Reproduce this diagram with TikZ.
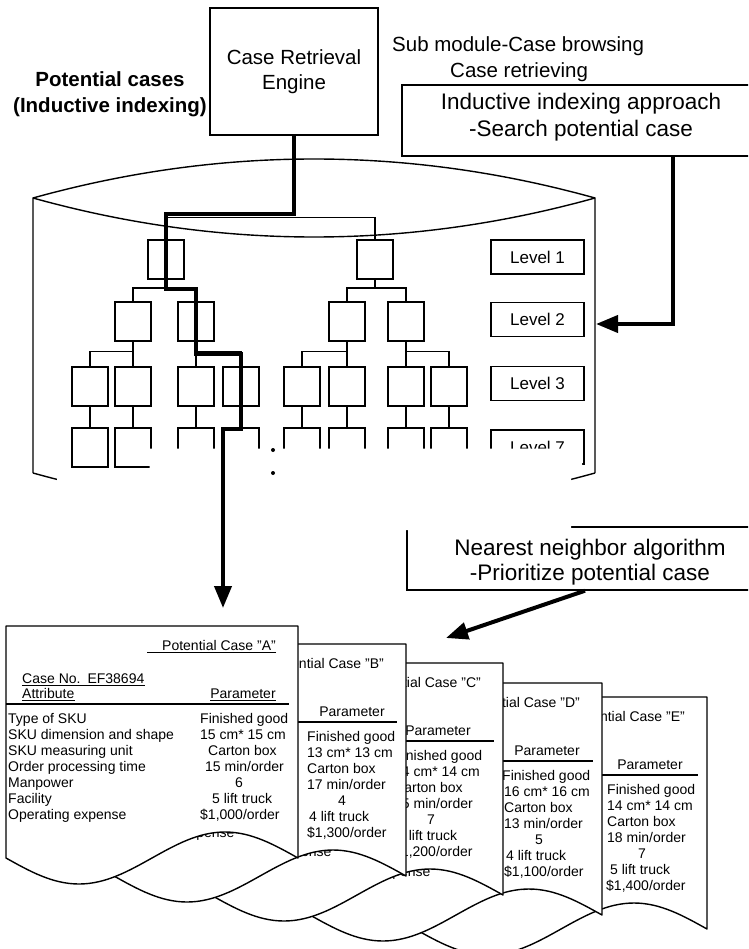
\documentclass[tikz,border=0pt]{standalone}
\usepackage{fontspec}
\setmainfont{Liberation Sans}
\usetikzlibrary{arrows.meta}

\newcommand\fsz[1]{\fontsize{#1}{#1}\selectfont}

% One case sheet: #1 left, #2 top, #3 letter, #4 centre of "Parameter",
% #5 value rows as offset/text pairs. The sheets are laid one over the
% other, so only the last attribute row shows below the front sheet's wave.
\newcommand\casesheet[5]{%
  \begin{scope}[shift={(#1,#2)}]
    \path[sheet] (0,232) -- (0,0) -- (292,0) -- (292,232)
      sin (219,206) cos (146,232) sin (73,258) cos (0,232) -- cycle;
    \node[cell, anchor=base east] (title#3) at (270,24) {Potential Case "#3"};
    \node[cell, anchor=base] (param#3) at (#4,72) {Parameter};
    \draw[wire] (0,78) -- (283,78);
    \node[cell, anchor=base west] (attr#3) at (2,193) {Operating expense};
    \foreach \dx/\val [count=\k from 0] in {#5}
      \node[cell, anchor=base west] (val#3\k) at (\dx,97+16*\k) {\val};
  \end{scope}}

\begin{document}
\begin{tikzpicture}[x=1pt, y=-1pt,
  wire/.style={line width=1.4pt},
  route/.style={line width=4pt},
  uline/.style={line width=1.2pt},
  boxline/.style={draw, line width=1.4pt, inner sep=0pt},
  tbox/.style={boxline, minimum width=36pt, minimum height=39pt},
  lvl/.style={boxline, minimum width=93pt, minimum height=34pt, font=\fsz{17}},
  lab/.style={inner sep=0pt, font=\fsz{20.5}},
  bigtext/.style={inner sep=0pt, font=\fsz{22.5}},
  cell/.style={inner sep=0pt, font=\fsz{14}},
  sheet/.style={draw, fill=white, line width=1.4pt, line join=round},
  pointer/.style={-{Triangle[length=22pt,width=17pt]}},
  dot/.style={circle, fill, inner sep=0pt, minimum size=4pt},
]
\useasboundingbox (0,0) rectangle (748,949);
\clip (0,0) rectangle (748,949);

% ---------- headings ----------
\node[lab, font=\fsz{20.5}\bfseries, anchor=base] (pot1) at (110,87) {Potential cases};
\node[lab, font=\fsz{20.5}\bfseries, anchor=base] (pot2) at (110,113) {(Inductive indexing)};

\node[boxline, minimum width=168pt, minimum height=127pt] (cre) at (294,71.5) {};
\node[lab, anchor=base] (cre1) at (294,65) {Case Retrieval};
\node[lab, anchor=base] (cre2) at (294,90) {Engine};

\node[lab, anchor=base west] (sub1) at (392,52) {Sub module-Case browsing};
\node[lab, anchor=base west] (sub2) at (450,78) {Case retrieving};

\node[boxline, minimum width=358pt, minimum height=71pt] (ind) at (581,120.5) {};
\node[bigtext, anchor=base] (ind1) at (581,110) {Inductive indexing approach};
\node[bigtext, anchor=base] (ind2) at (581,137) {-Search potential case};

\node[boxline, minimum width=366pt, minimum height=63pt] (nn) at (590,558.5) {};
\node[bigtext, anchor=base] (nn1) at (590,555) {Nearest neighbor algorithm};
\node[bigtext, anchor=base] (nn2) at (590,580) {-Prioritize potential case};

% ---------- case base drum ----------
\draw[wire] (33,473) -- (33,198) .. controls (220,146) and (408,146) .. (595,198) -- (595,473);
\draw[wire] (33,198) .. controls (220,250) and (408,250) .. (595,198);
\draw[wire] (33,473) .. controls (220,525) and (408,525) .. (595,473);

% ---------- level tags ----------
\node[lvl] (lv1) at (537.5,257) {Level 1};
\node[lvl] (lv2) at (537.5,319.5) {Level 2};
\node[lvl] (lv3) at (537.5,383.5) {Level 3};
\node[lvl] (lv7) at (537.5,447) {Level 7};

% ---------- index tree, left branch ----------
\node[tbox] (l1a) at (166,259.5) {};
\node[tbox] (l2a) at (133,321.5) {};
\node[tbox] (l2b) at (196,321.5) {};
\node[tbox] (l3a) at (90,386.5) {};
\node[tbox] (l3b) at (133,386.5) {};
\node[tbox] (l3c) at (196,386.5) {};
\node[tbox] (l3d) at (241,386.5) {};
\node[tbox] (l4a) at (90,447.5) {};
\node[tbox] (l4b) at (133,447.5) {};
\node[tbox] (l4c) at (196,447.5) {};
\node[tbox] (l4d) at (241,447.5) {};

% ---------- index tree, right branch ----------
\node[tbox] (r1) at (375,259.5) {};
\node[tbox] (r2a) at (347,321.5) {};
\node[tbox] (r2b) at (406,321.5) {};
\node[tbox] (r3a) at (302,386.5) {};
\node[tbox] (r3b) at (347,386.5) {};
\node[tbox] (r3c) at (406,386.5) {};
\node[tbox] (r3d) at (449,386.5) {};
\node[tbox] (r4a) at (302,447.5) {};
\node[tbox] (r4b) at (347,447.5) {};
\node[tbox] (r4c) at (406,447.5) {};
\node[tbox] (r4d) at (449,447.5) {};

% tree links
\draw[wire] (l1a.north) -- ++(0,-22) -| (r1.north);
\draw[wire] (l1a.south) -- ++(0,9);
\draw[wire] (l2a.north) -- ++(0,-13.5) -| (l2b.north);
\draw[wire] (r1.south) -- ++(0,9);
\draw[wire] (r2a.north) -- ++(0,-13.5) -| (r2b.north);
\draw[wire] (l2a.south) -- ++(0,11);
\draw[wire] (l3a.north) -- ++(0,-15) -| (l3b.north);
\draw[wire] (l2b.south) -- ++(0,11);
\draw[wire] (l3c.north) -- ++(0,-15) -| (l3d.north);
\draw[wire] (r2a.south) -- ++(0,11);
\draw[wire] (r3a.north) -- ++(0,-15) -| (r3b.north);
\draw[wire] (r2b.south) -- ++(0,11);
\draw[wire] (r3c.north) -- ++(0,-15) -| (r3d.north);
\foreach \u/\v in {l3a/l4a, l3b/l4b, l3c/l4c, l3d/l4d, r3a/r4a, r3b/r4b, r3c/r4c, r3d/r4d}
  \draw[wire] (\u.south) -- (\v.north);

% blank band hiding the lowest rows
\fill[white] (149.5,448.5) -- (582,448.5) -- (582,475) -- (571,475) -- (571,530)
  -- (57,530) -- (57,475) -- (149.5,475) -- cycle;

\node[dot] (d1) at (273,450) {};
\node[dot] (d2) at (273,473) {};

% ---------- retrieval path and arrows ----------
\coordinate (tipA) at (223,608);
\coordinate (cylR) at (596,324);
\coordinate (stack) at (446,638);

\draw[route, pointer] (cre.south) -- ++(0,78) -- ++(-128,0) -- ++(0,75) -- ++(30,0)
  -- ++(0,65) -- ++(45,0) -- ++(0,75) -- ++(-18,0) -- (tipA);
\draw[route, pointer] ([xshift=92pt]ind.south) |- (cylR);
\draw[route, pointer] ([xshift=-5pt]nn.south) -- (stack);

% ---------- stack of potential cases ----------
\casesheet{415}{697}{E}{235}{192/Finished good, 192/14 cm* 14 cm, 192/Carton box,
  192/{18 min/order}, 223/7, 195/5 lift truck, 191/{\$1,400/order}}
\casesheet{310}{683}{D}{237}{192/Finished good, 194/16 cm* 16 cm, 194/Carton box,
  194/{13 min/order}, 225/5, 196/4 lift truck, 194/{\$1,100/order}}
\casesheet{211}{663}{C}{227}{183/Finished good, 183/14 cm* 14 cm, 183/Carton box,
  183/{15 min/order}, 216/7, 186/5 lift truck, 182/{\$1,200/order}}
\casesheet{114}{644}{B}{238}{193/Finished good, 193/13 cm* 13 cm, 193/Carton box,
  193/{17 min/order}, 224/4, 195/4 lift truck, 193/{\$1,300/order}}
\casesheet{6}{626}{A}{237}{194/Finished good, 194/15 cm* 15 cm, 202/Carton box,
  199/{15 min/order}, 229/6, 206/5 lift truck, 194/{\$1,000/order}}

% front sheet: full attribute column and underlined headings
\foreach \lbl [count=\k from 0] in {Type of SKU, SKU dimension and shape,
    SKU measuring unit, Order processing time, Manpower, Facility}
  \node[cell, anchor=base west] (rowA\k) at (8,723+16*\k) {\lbl};
\node[cell, anchor=base west] (casenoA) at (22,683) {Case No.\hspace{7pt}EF38694};
\node[cell, anchor=base west] (attrhdA) at (22,698) {Attribute};
\draw[uline] ([yshift=-2.5pt]titleA.base east) -- ++(-129,0);
\draw[uline] ([yshift=-2.5pt]casenoA.base west) -- ([yshift=-2.5pt]casenoA.base east);
\draw[uline] ([yshift=-2.5pt]attrhdA.base west) -- ([yshift=-2.5pt]attrhdA.base east);
\draw[uline] ([yshift=-2.5pt]paramA.base west) -- ([yshift=-2.5pt]paramA.base east);
\end{tikzpicture}
\end{document}
